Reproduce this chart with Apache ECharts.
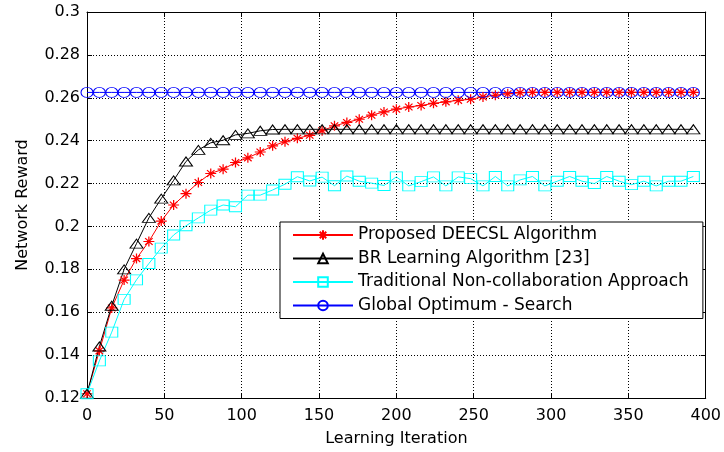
<!DOCTYPE html>
<html>
<head>
<meta charset="utf-8">
<script src="https://cdn.jsdelivr.net/npm/echarts@6/dist/echarts.min.js"></script>
<style>html,body{margin:0;padding:0;background:#fff;}#c{width:724px;height:452px;}</style>
</head>
<body>
<div id="c"></div>
<script>
const iterations = [0,8,16,24,32,40,48,56,64,72,80,88,96,104,112,120,128,136,144,152,160,168,176,184,192,200,208,216,224,232,240,248,256,264,272,280,288,296,304,312,320,328,336,344,352,360,368,376,384,392];
const proposedDEECSL = [0.122,0.142,0.162,0.175,0.185,0.193,0.2025,0.21,0.2153,0.2205,0.2247,0.2267,0.2298,0.232,0.2347,0.2376,0.2395,0.2411,0.2425,0.2446,0.2469,0.2485,0.25,0.2519,0.2534,0.2547,0.2557,0.2564,0.2574,0.2581,0.2588,0.2593,0.2604,0.2612,0.2619,0.2624,0.2625,0.2625,0.2625,0.2625,0.2625,0.2625,0.2625,0.2625,0.2625,0.2625,0.2625,0.2625,0.2625,0.2625];
const brLearning = [0.122,0.144,0.163,0.180,0.192,0.204,0.213,0.2215,0.2303,0.2357,0.239,0.2402,0.2427,0.2434,0.2446,0.2452,0.2453,0.2453,0.2453,0.2453,0.2453,0.2453,0.2453,0.2453,0.2453,0.2453,0.2453,0.2453,0.2453,0.2453,0.2453,0.2453,0.2453,0.2453,0.2453,0.2453,0.2453,0.2453,0.2453,0.2453,0.2453,0.2453,0.2453,0.2453,0.2453,0.2453,0.2453,0.2453,0.2453,0.2453];
const traditional = [0.122,0.1373,0.1507,0.166,0.1751,0.1827,0.1899,0.196,0.2003,0.204,0.2076,0.21,0.2092,0.2146,0.2146,0.217,0.2197,0.2232,0.2212,0.223,0.219,0.2235,0.2211,0.2202,0.2191,0.2231,0.2189,0.2209,0.2231,0.2189,0.2231,0.2223,0.2189,0.2233,0.2189,0.2217,0.2233,0.2189,0.2211,0.2233,0.2211,0.22,0.2233,0.2211,0.2195,0.2211,0.2189,0.2211,0.2211,0.2233];
const globalOptimum = [0.2625,0.2625,0.2625,0.2625,0.2625,0.2625,0.2625,0.2625,0.2625,0.2625,0.2625,0.2625,0.2625,0.2625,0.2625,0.2625,0.2625,0.2625,0.2625,0.2625,0.2625,0.2625,0.2625,0.2625,0.2625,0.2625,0.2625,0.2625,0.2625,0.2625,0.2625,0.2625,0.2625,0.2625,0.2625,0.2625,0.2625,0.2625,0.2625,0.2625,0.2625,0.2625,0.2625,0.2625,0.2625,0.2625,0.2625,0.2625,0.2625,0.2625];
const seriesNames = ['Proposed DEECSL Algorithm','BR Learning Algorithm [23]','Traditional Non-collaboration Approach','Global Optimum - Search'];
const xAxisName = 'Learning Iteration';
const yAxisName = 'Network Reward';

function pairs(ys){ return iterations.map((x,i)=>[x, ys[i]]); }
const FONT = 'DejaVu Sans';
const asterisk = 'path://M5 0 L5 10 M0 5 L10 5 M1.6 1.6 L8.4 8.4 M8.4 1.6 L1.6 8.4';

const chart = echarts.init(document.getElementById('c'), null, {renderer:'canvas'});
const axisCommon = {
  type:'value',
  axisLine:{show:true, onZero:false, lineStyle:{color:'#000', width:1}},
  axisTick:{show:true, inside:true, length:5, lineStyle:{color:'#000'}},
};
chart.setOption({
  animation:false,
  backgroundColor:'#fff',
  grid:{left:87, right:16, top:12, bottom:50, containLabel:false},
  xAxis:[
    Object.assign({}, axisCommon, {
      min:0, max:400, interval:50, position:'bottom',
      name:xAxisName, nameLocation:'middle', nameGap:33,
      nameTextStyle:{fontFamily:FONT, fontSize:16, color:'#000'},
      axisLabel:{fontFamily:FONT, fontSize:16, color:'#000', margin:10},
      splitLine:{show:true, lineStyle:{color:'#000', type:[1,2], width:1}}
    }),
    Object.assign({}, axisCommon, {
      min:0, max:400, interval:50, position:'top',
      axisLabel:{show:false}, splitLine:{show:false}
    })
  ],
  yAxis:[
    Object.assign({}, axisCommon, {
      min:0.12, max:0.3, interval:0.02, position:'left',
      name:yAxisName, nameLocation:'middle', nameGap:56,
      nameTextStyle:{fontFamily:FONT, fontSize:16, color:'#000'},
      axisLabel:{fontFamily:FONT, fontSize:16, color:'#000', margin:7,
        formatter:v=>String(+v.toFixed(2))},
      splitLine:{show:true, lineStyle:{color:'#000', type:[1,2], width:1}}
    }),
    Object.assign({}, axisCommon, {
      min:0.12, max:0.3, interval:0.02, position:'right',
      axisLabel:{show:false}, splitLine:{show:false}
    })
  ],
  legend:{
    orient:'vertical', left:280, top:222,
    backgroundColor:'#fff', borderColor:'#000', borderWidth:1, borderRadius:0,
    padding:[3,14,3,12], itemWidth:60, itemHeight:12, itemGap:3.5,
    textStyle:{fontFamily:FONT, fontSize:17, color:'#000', lineHeight:20},
    data:seriesNames
  },
  series:[
    {name:seriesNames[0], type:'line', data:pairs(proposedDEECSL),
     symbol:asterisk, symbolSize:[11,10], showAllSymbol:true,
     lineStyle:{color:'#ff0000', width:1},
     itemStyle:{color:'rgba(0,0,0,0)', borderColor:'#ff0000', borderWidth:1.2}},
    {name:seriesNames[1], type:'line', data:pairs(brLearning),
     symbol:'triangle', symbolSize:[13,9], showAllSymbol:true,
     lineStyle:{color:'#000', width:1},
     itemStyle:{color:'rgba(0,0,0,0)', borderColor:'#000', borderWidth:1}},
    {name:seriesNames[2], type:'line', data:pairs(traditional),
     symbol:'rect', symbolSize:[12,10], showAllSymbol:true,
     lineStyle:{color:'#00ffff', width:1},
     itemStyle:{color:'rgba(0,0,0,0)', borderColor:'#00ffff', borderWidth:1}},
    {name:seriesNames[3], type:'line', data:pairs(globalOptimum),
     symbol:'circle', symbolSize:[12,10], showAllSymbol:true,
     lineStyle:{color:'#0000ff', width:1},
     itemStyle:{color:'rgba(0,0,0,0)', borderColor:'#0000ff', borderWidth:1}}
  ]
});
</script>
</body>
</html>
